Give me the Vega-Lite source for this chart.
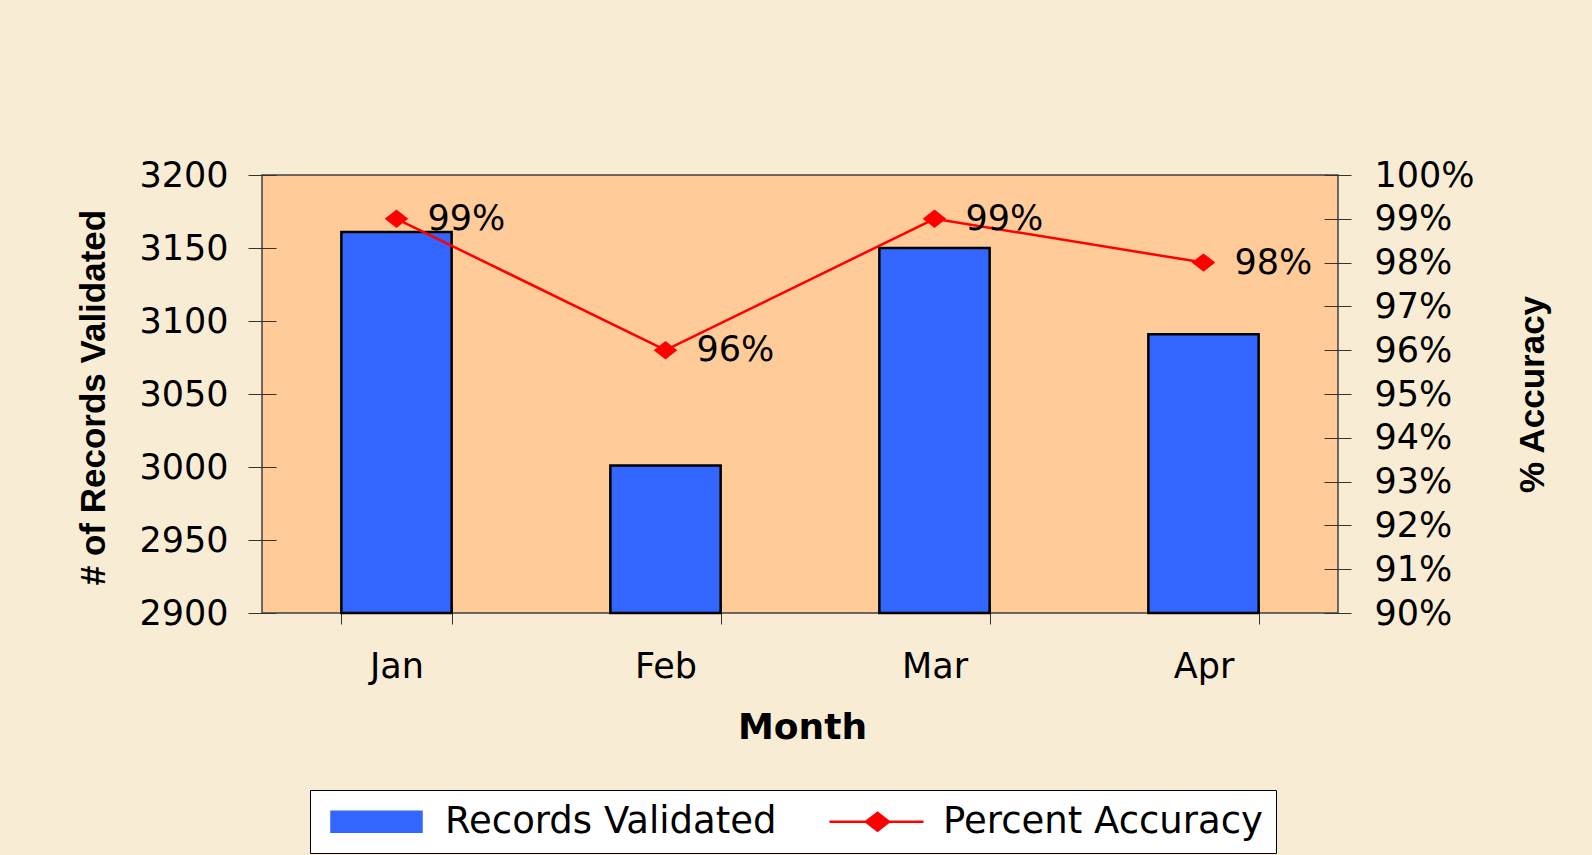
{
  "$schema": "https://vega.github.io/schema/vega-lite/v6.json",
  "autosize": {"type": "none"},
  "width": 1076,
  "height": 438,
  "padding": {"left": 262, "top": 175, "right": 254, "bottom": 242},
  "background": "#F9ECD4",
  "config": {
    "view": {"fill": "#FFCC99", "stroke": "#404040", "strokeWidth": 1.5},
    "font": "DejaVu Sans",
    "legend": {
      "orient": "none",
      "legendX": 48,
      "legendY": 615,
      "direction": "horizontal",
      "fillColor": "white",
      "strokeColor": "black",
      "padding": 13,
      "labelFont": "DejaVu Sans",
      "labelFontSize": 37,
      "labelColor": "black",
      "labelOffset": 85,
      "labelLimit": 600,
      "columnPadding": 44,
      "symbolSize": 400,
      "symbolStrokeWidth": 2.5,
      "symbolStrokeColor": {"expr": "datum.value === 'Records Validated' ? '#000000' : '#FF0000'"}
    }
  },
  "data": {
    "values": [
      {"month": "Jan", "records": 3161, "accuracy": 0.99},
      {"month": "Feb", "records": 3001, "accuracy": 0.96},
      {"month": "Mar", "records": 3150, "accuracy": 0.99},
      {"month": "Apr", "records": 3091, "accuracy": 0.98}
    ]
  },
  "encoding": {
    "x": {
      "field": "month",
      "type": "nominal",
      "sort": null,
      "scale": {"paddingInner": 0.59, "paddingOuter": 0.295},
      "axis": {
        "title": "Month",
        "domain": false,
        "offset": -10,
        "tickSize": 21,
        "tickBand": "extent",
        "tickColor": "#333333",
        "tickWidth": 1,
        "labelAngle": 0,
        "labelFont": "DejaVu Sans",
        "labelFontSize": 35,
        "labelColor": "black",
        "labelBaseline": "alphabetic",
        "labelPadding": 53,
        "titleFont": "DejaVu Sans",
        "titleFontWeight": "bold",
        "titleFontSize": 36,
        "titleColor": "black",
        "titleBaseline": "alphabetic",
        "titleAlign": "center",
        "titleX": 540,
        "titleY": 135
      }
    }
  },
  "layer": [
    {
      "mark": {"type": "bar", "stroke": "black", "strokeWidth": 2.5},
      "encoding": {
        "y": {
          "field": "records",
          "type": "quantitative",
          "scale": {"domain": [2900, 3200], "zero": false, "nice": false},
          "axis": {
            "title": "# of Records Validated",
            "values": [2900, 2950, 3000, 3050, 3100, 3150, 3200],
            "format": "d",
            "domain": false,
            "grid": false,
            "offset": -14,
            "tickSize": 28,
            "tickColor": "#333333",
            "labelFont": "DejaVu Sans",
            "labelFontSize": 35,
            "labelColor": "black",
            "labelPadding": 20,
            "labelFlush": false,
            "labelOverlap": false,
            "labelBound": false,
            "titleFont": "Liberation Sans",
            "titleFontWeight": "bold",
            "titleFontSize": 35,
            "titleColor": "black",
            "titleAngle": 270,
            "titleBaseline": "alphabetic",
            "titleAlign": "center",
            "titleX": -172,
            "titleY": 222
          }
        },
        "y2": {"datum": 2900},
        "color": {
          "datum": "Records Validated",
          "type": "nominal",
          "scale": {"domain": ["Records Validated", "Percent Accuracy"], "range": ["#3366FF", "#FF0000"]},
          "legend": {
            "title": null,
            "encode": {
              "symbols": {
                "update": {
                  "shape": {"signal": "datum.value === 'Records Validated' ? 'M-1,-1H8V1H-1Z' : 'M-1,0H8.4M2.65,0L3.8,-0.9L4.95,0L3.8,0.9Z'"},
                  "fill": {"signal": "datum.value === 'Records Validated' ? '#3366FF' : '#FF0000'"},
                  "stroke": {"signal": "datum.value === 'Records Validated' ? '#000000' : '#FF0000'"},
                  "strokeWidth": {"value": 2.5},
                  "opacity": {"value": 1},
                  "fillOpacity": {"value": 1},
                  "strokeOpacity": {"value": 1}
                }
              }
            }
          }
        }
      }
    },
    {
      "encoding": {
        "y": {
          "field": "accuracy",
          "type": "quantitative",
          "scale": {"domain": [0.9, 1.0], "zero": false, "nice": false},
          "axis": {
            "orient": "right",
            "title": "% Accuracy",
            "format": ".0%",
            "values": [0.9, 0.91, 0.92, 0.93, 0.94, 0.95, 0.96, 0.97, 0.98, 0.99, 1.0],
            "domain": false,
            "grid": false,
            "offset": -14,
            "tickSize": 27,
            "tickColor": "#333333",
            "labelFont": "DejaVu Sans",
            "labelFontSize": 35,
            "labelColor": "black",
            "labelPadding": 23,
            "labelFlush": false,
            "labelOverlap": false,
            "labelBound": false,
            "titleFont": "Liberation Sans",
            "titleFontWeight": "bold",
            "titleFontSize": 35,
            "titleColor": "black",
            "titleAngle": 270,
            "titleBaseline": "alphabetic",
            "titleAlign": "center",
            "titleX": 219,
            "titleY": 219
          }
        }
      },
      "layer": [
        {
          "mark": {"type": "line", "strokeWidth": 2.5},
          "encoding": {
            "color": {
              "datum": "Percent Accuracy",
              "type": "nominal",
              "legend": {
                "title": null,
                "encode": {
                  "symbols": {
                    "update": {
                      "shape": {"signal": "datum.value === 'Records Validated' ? 'M-1,-1H8V1H-1Z' : 'M-1,0H8.4M2.65,0L3.8,-0.9L4.95,0L3.8,0.9Z'"},
                      "fill": {"signal": "datum.value === 'Records Validated' ? '#3366FF' : '#FF0000'"},
                      "stroke": {"signal": "datum.value === 'Records Validated' ? '#000000' : '#FF0000'"},
                      "strokeWidth": {"value": 2.5},
                      "opacity": {"value": 1},
                      "fillOpacity": {"value": 1},
                      "strokeOpacity": {"value": 1}
                    }
                  }
                }
              }
            }
          }
        },
        {
          "mark": {"type": "point", "filled": true, "opacity": 1, "size": 420, "shape": "M-1.15,0L0,-0.9L1.15,0L0,0.9Z"},
          "encoding": {
            "color": {
              "datum": "Percent Accuracy",
              "type": "nominal",
              "legend": {
                "title": null,
                "encode": {
                  "symbols": {
                    "update": {
                      "shape": {"signal": "datum.value === 'Records Validated' ? 'M-1,-1H8V1H-1Z' : 'M-1,0H8.4M2.65,0L3.8,-0.9L4.95,0L3.8,0.9Z'"},
                      "fill": {"signal": "datum.value === 'Records Validated' ? '#3366FF' : '#FF0000'"},
                      "stroke": {"signal": "datum.value === 'Records Validated' ? '#000000' : '#FF0000'"},
                      "strokeWidth": {"value": 2.5},
                      "opacity": {"value": 1},
                      "fillOpacity": {"value": 1},
                      "strokeOpacity": {"value": 1}
                    }
                  }
                }
              }
            }
          }
        },
        {
          "mark": {"type": "text", "align": "left", "baseline": "middle", "dx": 31, "fontSize": 35, "font": "DejaVu Sans", "color": "black"},
          "encoding": {"text": {"field": "accuracy", "type": "quantitative", "format": ".0%"}}
        }
      ]
    }
  ],
  "resolve": {"scale": {"y": "independent"}}
}
